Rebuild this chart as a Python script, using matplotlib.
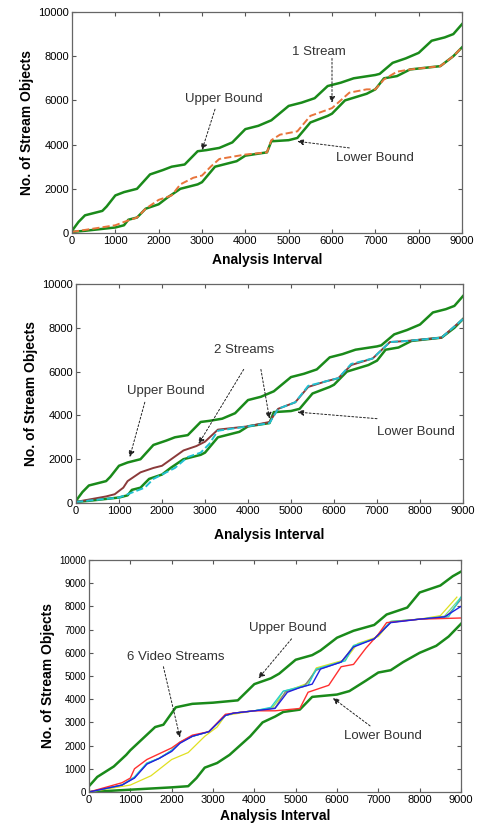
import matplotlib
matplotlib.use("Agg")
import matplotlib.pyplot as plt

plt.rcParams['font.family'] = ['Liberation Sans', 'DejaVu Sans']

# ---- panel 1 / 2 bounds ----
ub_x = [0, 150, 300, 700, 800, 1000, 1200, 1500, 1800, 2100, 2300, 2600, 2900, 3100, 3400, 3700,
        4000, 4300, 4600, 5000, 5300, 5600, 5900, 6200, 6500, 7000, 7100, 7400, 7700, 8000, 8300,
        8600, 8800, 9000]
ub_y = [100, 500, 800, 1000, 1200, 1700, 1850, 2000, 2650, 2850, 3000, 3100, 3700, 3750, 3850, 4100,
        4700, 4850, 5100, 5750, 5900, 6100, 6650, 6800, 7000, 7150, 7200, 7700, 7900, 8150, 8700,
        8850, 9000, 9450]
lb_x = [0, 300, 1000, 1200, 1300, 1500, 1700, 2000, 2200, 2500, 2900, 3000, 3300, 3600, 3800, 4000,
        4500, 4600, 5000, 5200, 5500, 5900, 6000, 6300, 6800, 7000, 7200, 7500, 7800, 8500, 8800, 9000]
lb_y = [50, 100, 250, 350, 600, 700, 1100, 1300, 1600, 2000, 2200, 2300, 3000, 3150, 3250, 3500,
        3650, 4150, 4200, 4300, 5000, 5300, 5400, 6000, 6300, 6500, 7000, 7100, 7400, 7550, 8000, 8400]

s1_x = [0, 1000, 1200, 1500, 1700, 2000, 2300, 2500, 2800, 3000, 3200, 3400, 3700, 4000, 4500, 4600,
        4800, 5200, 5500, 6000, 6200, 6400, 6800, 7000, 7200, 7500, 7800, 8500, 8800, 9000]
s1_y = [50, 350, 500, 700, 1100, 1500, 1700, 2200, 2500, 2600, 3000, 3350, 3450, 3550, 3650, 4200,
        4450, 4600, 5300, 5650, 6000, 6350, 6500, 6500, 6950, 7300, 7400, 7550, 8000, 8400]

# ---- panel 2 streams ----
s2a_x = [0, 700, 900, 1100, 1200, 1500, 1800, 2000, 2500, 2800, 3000, 3300, 4000, 4500, 4700, 5100,
         5400, 5800, 6100, 6400, 6900, 7300, 7700, 8500, 9000]
s2a_y = [50, 300, 400, 700, 1000, 1400, 1600, 1700, 2400, 2600, 2800, 3350, 3500, 3700, 4300, 4600,
         5300, 5550, 5700, 6300, 6600, 7350, 7400, 7550, 8400]
s2b_x = [0, 1000, 1200, 1600, 1800, 2300, 2600, 2900, 3100, 3300, 4000, 4500, 4700, 5100, 5400, 6100,
         6400, 6900, 7300, 7700, 8500, 9000]
s2b_y = [50, 250, 400, 700, 1100, 1600, 2100, 2300, 2700, 3300, 3500, 3650, 4300, 4600, 5350, 5700,
         6350, 6600, 7350, 7400, 7550, 8400]

# ---- panel 3 ----
ub3_x = [0, 200, 600, 900, 1000, 1300, 1600, 1800, 2000, 2100, 2500, 3000, 3600, 4000, 4400, 4600,
         5000, 5400, 5600, 6000, 6400, 6900, 7200, 7700, 8000, 8500, 8800, 9000]
ub3_y = [250, 650, 1100, 1600, 1800, 2300, 2800, 2900, 3400, 3650, 3800, 3850, 3950, 4650, 4900, 5100,
         5700, 5900, 6100, 6650, 6950, 7200, 7650, 7950, 8600, 8900, 9300, 9500]
lb3_x = [0, 2000, 2400, 2600, 2800, 3100, 3400, 3900, 4200, 4500, 4700, 5100, 5400, 6000, 6300, 6700,
         7000, 7300, 7600, 8000, 8400, 8700, 9000]
lb3_y = [0, 200, 250, 600, 1050, 1250, 1600, 2400, 3000, 3250, 3450, 3550, 4100, 4200, 4350, 4800,
         5150, 5250, 5600, 6000, 6300, 6700, 7250]

blue_x = [0, 800, 1100, 1400, 1700, 2000, 2200, 2500, 2900, 3300, 3500, 4000, 4500, 4800, 5100, 5400,
          5600, 6100, 6400, 6900, 7300, 8000, 8600, 9000]
blue_y = [0, 300, 600, 1200, 1450, 1750, 2100, 2400, 2600, 3300, 3400, 3500, 3600, 4300, 4500, 4650,
          5300, 5600, 6250, 6600, 7300, 7450, 7550, 8000]
cyan_x = [0, 800, 1100, 1400, 1700, 2000, 2200, 2500, 2900, 3300, 3500, 4000, 4400, 4700, 5300, 5500,
          6200, 6400, 6900, 7300, 8000, 8700, 9000]
cyan_y = [0, 300, 650, 1250, 1450, 1800, 2150, 2400, 2600, 3300, 3400, 3500, 3650, 4350, 4600, 5300,
          5650, 6300, 6600, 7350, 7450, 7550, 8400]
gray_x = [0, 800, 1100, 1400, 1700, 2000, 2200, 2500, 2900, 3300, 3500, 4000, 4500, 4750, 5200, 5500,
          6100, 6400, 6900, 7300, 8000, 8650, 9000]
gray_y = [0, 300, 620, 1220, 1450, 1780, 2120, 2400, 2600, 3300, 3400, 3500, 3620, 4320, 4550, 5250,
          5600, 6280, 6600, 7320, 7450, 7550, 8300]
lgreen_x = [0, 800, 1100, 1400, 1700, 2000, 2200, 2500, 2900, 3300, 3500, 4000, 4450, 4700, 5250, 5500,
            6150, 6400, 6900, 7300, 8000, 8600, 9000]
lgreen_y = [0, 300, 640, 1240, 1460, 1790, 2130, 2400, 2600, 3300, 3400, 3500, 3640, 4340, 4620, 5300,
            5650, 6320, 6600, 7350, 7450, 7580, 8400]
yellow_x = [0, 1000, 1500, 2000, 2400, 2800, 3100, 3300, 4000, 4400, 4800, 5300, 5500, 6200, 6500,
            7000, 7300, 8000, 8500, 8900]
yellow_y = [0, 300, 700, 1400, 1700, 2400, 2800, 3300, 3500, 3600, 4350, 4700, 5350, 5700, 6400,
            6700, 7350, 7450, 7600, 8400]
red_x = [0, 800, 1000, 1100, 1400, 2000, 2200, 2500, 2900, 3300, 3500, 4000, 4500, 5100, 5300, 5800,
         6100, 6400, 6700, 7000, 7200, 8000, 9000]
red_y = [0, 400, 600, 1000, 1400, 1900, 2150, 2450, 2600, 3350, 3400, 3500, 3500, 3600, 4300, 4600,
         5400, 5500, 6200, 6800, 7300, 7450, 7500]

GREEN = '#1a8a1a'
xticks = list(range(0, 9001, 1000))

fig = plt.figure(figsize=(4.79, 8.25), dpi=100)
W, H = 479, 825


def box(l, t, r, b):
    return [l / W, 1 - b / H, (r - l) / W, (b - t) / H]


def arrow(ax, tail, head):
    ax.annotate('', xy=head, xytext=tail,
                arrowprops=dict(arrowstyle='-|>', linestyle=(0, (2, 2)), color='#222222',
                                lw=0.7, mutation_scale=9, shrinkA=0, shrinkB=0))


def style(ax, yticks, ysize, xpad):
    ax.set_xlim(0, 9000)
    ax.set_ylim(0, 10000)
    ax.set_xticks(xticks)
    ax.set_yticks(yticks)
    ax.tick_params(labelsize=8, direction='in', length=3, pad=2, color='#555555',
                   top=True, right=True)
    ax.tick_params(axis='y', labelsize=ysize)
    ax.set_xlabel('Analysis Interval', fontsize=10, fontweight='bold', labelpad=xpad)
    ax.set_ylabel('No. of Stream Objects', fontsize=10, fontweight='bold', labelpad=3)
    for s in ax.spines.values():
        s.set_linewidth(0.9)
        s.set_color('#666666')


# ---- panel 1 ----
ax1 = fig.add_axes(box(72, 12, 462, 233))
ax1.plot(ub_x, ub_y, color=GREEN, lw=1.8)
ax1.plot(lb_x, lb_y, color=GREEN, lw=1.8)
ax1.plot(s1_x, s1_y, color='#e8743b', lw=1.4, ls='--')
style(ax1, range(0, 10001, 2000), 8, 5)
ax1.text(5700, 8200, '1 Stream', fontsize=9.5, color='#333333', ha='center', va='center')
arrow(ax1, (6000, 7900), (6000, 5900))
ax1.text(3500, 6050, 'Upper Bound', fontsize=9.5, color='#333333', ha='center', va='center')
arrow(ax1, (3300, 5600), (3000, 3750))
ax1.text(7000, 3400, 'Lower Bound', fontsize=9.5, color='#333333', ha='center', va='center')
arrow(ax1, (6400, 3850), (5200, 4150))

# ---- panel 2 ----
ax2 = fig.add_axes(box(76, 284, 463, 503))
ax2.plot(ub_x, ub_y, color=GREEN, lw=1.8)
ax2.plot(lb_x, lb_y, color=GREEN, lw=1.8)
ax2.plot(s2a_x, s2a_y, color='#8b3a3a', lw=1.4)
ax2.plot(s2b_x, s2b_y, color='#20c0d0', lw=1.4, ls='--')
style(ax2, range(0, 10001, 2000), 8, 9)
ax2.text(3900, 7000, '2 Streams', fontsize=9.5, color='#333333', ha='center', va='center')
arrow(ax2, (3900, 6100), (2850, 2700))
arrow(ax2, (4300, 6100), (4500, 3850))
ax2.text(2100, 5100, 'Upper Bound', fontsize=9.5, color='#333333', ha='center', va='center')
arrow(ax2, (1600, 4600), (1250, 2100))
ax2.text(7900, 3250, 'Lower Bound', fontsize=9.5, color='#333333', ha='center', va='center')
arrow(ax2, (7000, 3850), (5150, 4150))

# ---- panel 3 ----
ax3 = fig.add_axes(box(89, 560, 461, 792))
ax3.plot(ub3_x, ub3_y, color=GREEN, lw=1.8)
ax3.plot(lb3_x, lb3_y, color=GREEN, lw=1.8)
ax3.plot(yellow_x, yellow_y, color='#e0e020', lw=0.9)
ax3.plot(lgreen_x, lgreen_y, color='#80e080', lw=0.9)
ax3.plot(gray_x, gray_y, color='#808080', lw=0.9)
ax3.plot(cyan_x, cyan_y, color='#20d0d0', lw=0.9)
ax3.plot(red_x, red_y, color='#ff3030', lw=1.0)
ax3.plot(blue_x, blue_y, color='#2020e0', lw=1.0)
style(ax3, range(0, 10001, 1000), 7, 3)
ax3.text(2100, 5800, '6 Video Streams', fontsize=9.5, color='#333333', ha='center', va='center')
arrow(ax3, (1800, 5400), (2200, 2350))
ax3.text(4800, 7050, 'Upper Bound', fontsize=9.5, color='#333333', ha='center', va='center')
arrow(ax3, (4900, 6600), (4100, 4900))
ax3.text(7100, 2400, 'Lower Bound', fontsize=9.5, color='#333333', ha='center', va='center')
arrow(ax3, (6800, 2850), (5900, 4050))

fig.savefig('out.png', dpi=100)
